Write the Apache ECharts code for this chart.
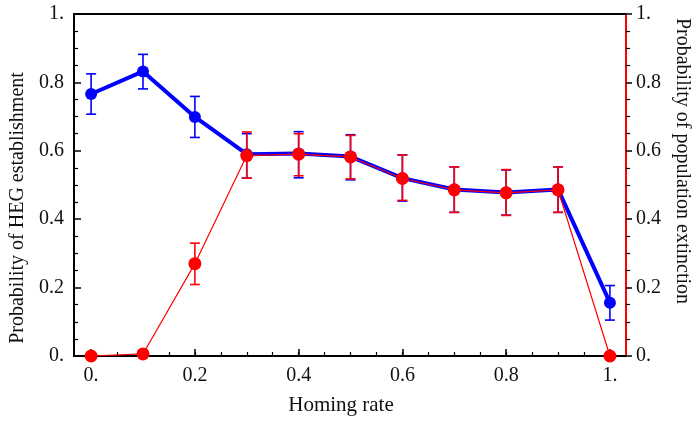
<!DOCTYPE html>
<html>
<head>
<meta charset="utf-8">
<script src="https://cdn.jsdelivr.net/npm/echarts@6/dist/echarts.min.js"></script>
<style>
  html, body { margin: 0; padding: 0; background: #fff; }
  #main { width: 700px; height: 421px; }
</style>
</head>
<body>
<div id="main"></div>
<script>
// homing rate
const homing = [0, 0.1, 0.2, 0.3, 0.4, 0.5, 0.6, 0.7, 0.8, 0.9, 1.0];
// probability of HEG establishment (blue) with error bar bounds
const hegMean = [0.766, 0.832, 0.699, 0.590, 0.592, 0.583, 0.520, 0.487, 0.478, 0.487, 0.156];
const hegLow = [0.707, 0.781, 0.639, 0.520, 0.521, 0.515, 0.453, 0.420, 0.412, 0.420, 0.105];
const hegHigh = [0.825, 0.882, 0.759, 0.650, 0.656, 0.647, 0.588, 0.553, 0.544, 0.553, 0.206];
// probability of population extinction (red)
const extMean = [0, 0.006, 0.270, 0.586, 0.590, 0.582, 0.519, 0.486, 0.477, 0.486, 0];
const extLow = [null, null, 0.209, 0.520, 0.527, 0.518, 0.455, 0.420, 0.411, 0.420, null];
const extHigh = [null, null, 0.330, 0.655, 0.650, 0.645, 0.588, 0.553, 0.545, 0.553, null];

const xMajor = [0, 0.2, 0.4, 0.6, 0.8, 1.0];
const xMinor = [0, 0.05, 0.1, 0.15, 0.2, 0.25, 0.3, 0.35, 0.4, 0.45, 0.5, 0.55, 0.6, 0.65, 0.7, 0.75, 0.8, 0.85, 0.9, 0.95, 1.0];

const font = 'Liberation Serif';
const fs = 20;

function fmt(v) {
  if (Math.abs(v) < 1e-9) return '0.';
  if (Math.abs(v - 1) < 1e-9) return '1.';
  return v.toFixed(1);
}

function errorSeries(low, high, color, z) {
  const data = [];
  homing.forEach((x, i) => {
    if (low[i] != null) data.push([x, low[i], high[i]]);
  });
  return {
    type: 'custom',
    xAxisIndex: 0,
    yAxisIndex: 0,
    z: z,
    silent: true,
    data: data,
    renderItem: function (params, api) {
      const lo = api.coord([api.value(0), api.value(1)]);
      const hi = api.coord([api.value(0), api.value(2)]);
      const w = 5;
      const style = { stroke: color, lineWidth: 1.6, fill: null };
      return {
        type: 'group',
        children: [
          { type: 'line', shape: { x1: lo[0], y1: lo[1], x2: hi[0], y2: hi[1] }, style: style },
          { type: 'line', shape: { x1: lo[0] - w, y1: lo[1], x2: lo[0] + w, y2: lo[1] }, style: style },
          { type: 'line', shape: { x1: hi[0] - w, y1: hi[1], x2: hi[0] + w, y2: hi[1] }, style: style }
        ]
      };
    }
  };
}

const chart = echarts.init(document.getElementById('main'));
chart.setOption({
  animation: false,
  backgroundColor: '#fff',
  grid: { left: 74, right: 69, top: 14, bottom: 63 },
  xAxis: [
    {
      type: 'value',
      min: -0.033,
      max: 1.031,
      position: 'bottom',
      name: 'Homing rate',
      nameLocation: 'middle',
      nameGap: 39,
      nameTextStyle: { fontFamily: font, fontSize: 21, color: '#111', padding: [0, 18, 0, 0] },
      axisLine: { show: true, onZero: false, lineStyle: { color: '#000', width: 2 } },
      axisTick: { show: true, inside: true, length: 7, customValues: xMajor, lineStyle: { color: '#000', width: 1.5 } },
      axisLabel: { customValues: xMajor, formatter: fmt, fontFamily: font, fontSize: fs, color: '#111', margin: 10 },
      splitLine: { show: false }
    },
    {
      type: 'value',
      min: -0.033,
      max: 1.031,
      position: 'bottom',
      axisLine: { show: false, onZero: false },
      axisTick: { show: true, inside: true, length: 4, customValues: xMinor, lineStyle: { color: '#000', width: 1.2 } },
      axisLabel: { show: false },
      splitLine: { show: false }
    },
    {
      type: 'value',
      min: -0.033,
      max: 1.031,
      position: 'top',
      axisLine: { show: true, onZero: false, lineStyle: { color: '#000', width: 2 } },
      axisTick: { show: false },
      axisLabel: { show: false },
      splitLine: { show: false }
    }
  ],
  yAxis: [
    {
      type: 'value',
      min: 0,
      max: 1,
      interval: 0.2,
      position: 'left',
      name: 'Probability of HEG establishment',
      nameLocation: 'middle',
      nameGap: 44,
      nameTextStyle: { fontFamily: font, fontSize: fs, color: '#111', padding: [0, 46, 0, 0] },
      axisLine: { show: true, onZero: false, lineStyle: { color: '#000', width: 2 } },
      axisTick: { show: true, inside: true, length: 7, lineStyle: { color: '#000', width: 1.5 } },
      minorTick: { show: true, splitNumber: 4, length: 4, lineStyle: { color: '#000', width: 1.2 } },
      axisLabel: { formatter: fmt, fontFamily: font, fontSize: fs, color: '#111', margin: 10 },
      splitLine: { show: false }
    },
    {
      type: 'value',
      min: 0,
      max: 1,
      interval: 0.2,
      position: 'right',
      name: 'Probability of population extinction',
      nameLocation: 'middle',
      nameGap: 46,
      nameRotate: -90,
      nameTextStyle: { fontFamily: font, fontSize: fs, color: '#111', padding: [0, 48, 0, 0] },
      axisLine: { show: true, onZero: false, lineStyle: { color: '#ff0000', width: 2 } },
      axisTick: { show: true, inside: false, length: 6, lineStyle: { color: '#000', width: 1.5 } },
      minorTick: { show: true, splitNumber: 4, length: 4, lineStyle: { color: '#000', width: 1.2 } },
      axisLabel: { formatter: fmt, fontFamily: font, fontSize: fs, color: '#111', margin: 10 },
      splitLine: { show: false }
    }
  ],
  series: [
    errorSeries(hegLow, hegHigh, '#0000ff', 2),
    {
      type: 'line',
      xAxisIndex: 0,
      yAxisIndex: 0,
      z: 3,
      data: homing.map((x, i) => [x, hegMean[i]]),
      symbol: 'circle',
      symbolSize: 12,
      lineStyle: { color: '#0000ff', width: 4 },
      itemStyle: { color: '#0000ff' }
    },
    errorSeries(extLow, extHigh, '#ff0000', 4),
    {
      type: 'line',
      xAxisIndex: 0,
      yAxisIndex: 1,
      z: 5,
      data: homing.map((x, i) => [x, extMean[i]]),
      symbol: 'circle',
      symbolSize: 13,
      lineStyle: { color: '#ff0000', width: 1.2 },
      itemStyle: { color: '#ff0000' }
    }
  ]
});
</script>
</body>
</html>
